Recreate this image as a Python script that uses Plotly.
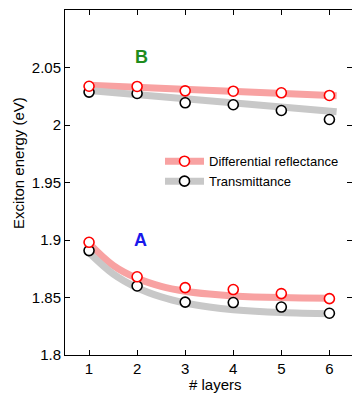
import plotly.graph_objects as go

layers = [1, 2, 3, 4, 5, 6]
# Measured exciton energies (eV)
b_reflect = [2.0337, 2.0335, 2.0297, 2.0294, 2.0280, 2.0257]
b_transm = [2.0286, 2.0274, 2.0193, 2.0176, 2.0126, 2.0048]
a_reflect = [1.8980, 1.8680, 1.8586, 1.8569, 1.8534, 1.8490]
a_transm = [1.8908, 1.8600, 1.8460, 1.8456, 1.8417, 1.8363]

# Fit guide lines
b_fit_x = [1.0, 6.15]
b_fit_reflect = [2.0345, 2.0255]
b_fit_transm = [2.0300, 2.0115]
a_fit_x = [1.0, 1.5, 2.0, 2.5, 3.0, 3.5, 4.0, 5.0, 6.05]
a_fit_reflect = [1.8970, 1.8780, 1.8667, 1.8597, 1.8555, 1.8530, 1.8514, 1.8499, 1.8493]
a_fit_transm = [1.8890, 1.8706, 1.8585, 1.8505, 1.8452, 1.8417, 1.8394, 1.8369, 1.8358]

RED_BAND = "rgb(248,162,162)"
GRAY_BAND = "rgb(200,200,200)"
BAND_W = 7

fig = go.Figure()
for fx, fy, col in [(b_fit_x, b_fit_reflect, RED_BAND), (b_fit_x, b_fit_transm, GRAY_BAND),
                    (a_fit_x, a_fit_reflect, RED_BAND), (a_fit_x, a_fit_transm, GRAY_BAND)]:
    fig.add_trace(go.Scatter(x=fx, y=fy, mode="lines", line=dict(color=col, width=BAND_W, shape="spline"),
                             showlegend=False, hoverinfo="skip"))

mk_red = dict(symbol="circle", size=10, color="white", line=dict(color="rgb(255,0,0)", width=1.6))
mk_blk = dict(symbol="circle", size=10, color="white", line=dict(color="black", width=1.6))
for ys in [b_transm, a_transm]:
    fig.add_trace(go.Scatter(x=layers, y=ys, mode="markers", marker=mk_blk, showlegend=False))
for ys in [b_reflect, a_reflect]:
    fig.add_trace(go.Scatter(x=layers, y=ys, mode="markers", marker=mk_red, showlegend=False))

# legend entries
fig.add_trace(go.Scatter(x=[None], y=[None], mode="lines+markers", name="Differential reflectance",
                         line=dict(color=RED_BAND, width=BAND_W), marker=mk_red))
fig.add_trace(go.Scatter(x=[None], y=[None], mode="lines+markers", name="Transmittance",
                         line=dict(color=GRAY_BAND, width=BAND_W), marker=mk_blk))

font = "Arial, Liberation Sans, sans-serif"
axis_common = dict(showline=True, linecolor="black", linewidth=1, mirror="ticks", ticks="inside",
                   ticklen=5, tickcolor="black", showgrid=False, zeroline=False,
                   tickfont=dict(family=font, size=15, color="black"))
fig.update_xaxes(range=[0.5, 6.47], tickvals=layers, **axis_common)
fig.update_yaxes(range=[1.8, 2.1], tickvals=[1.8, 1.85, 1.9, 1.95, 2.0, 2.05],
                 ticktext=["1.8", "1.85", "1.9", "1.95", "2", "2.05"], **axis_common)

fig.update_layout(
    width=352, height=394, margin=dict(l=65, r=0, t=10, b=39),
    plot_bgcolor="white", paper_bgcolor="white",
    legend=dict(x=(160 - 65) / 287, y=0.605, xanchor="left", yanchor="top", bgcolor="rgba(0,0,0,0)",
                font=dict(family=font, size=13, color="black"), tracegroupgap=0, itemwidth=39),
    annotations=[
        dict(text="<b>B</b>", x=2.1, y=2.059, xref="x", yref="y", showarrow=False,
             font=dict(family=font, size=18, color="rgb(30,140,30)")),
        dict(text="<b>A</b>", x=2.08, y=1.9, xref="x", yref="y", showarrow=False,
             font=dict(family=font, size=18, color="rgb(25,25,235)")),
        dict(text="Exciton energy (eV)", textangle=-90, x=(18 - 65) / 287, xref="paper", xanchor="center",
             y=1 - (163 - 10) / 345, yref="paper", yanchor="middle", showarrow=False,
             font=dict(family=font, size=15, color="black")),
        dict(text="# layers", x=(215 - 65) / 287, xref="paper", y=-(384 - 355) / 345, yref="paper",
             yanchor="middle", showarrow=False, font=dict(family=font, size=15, color="black")),
    ],
)

fig.write_html("out.html")
